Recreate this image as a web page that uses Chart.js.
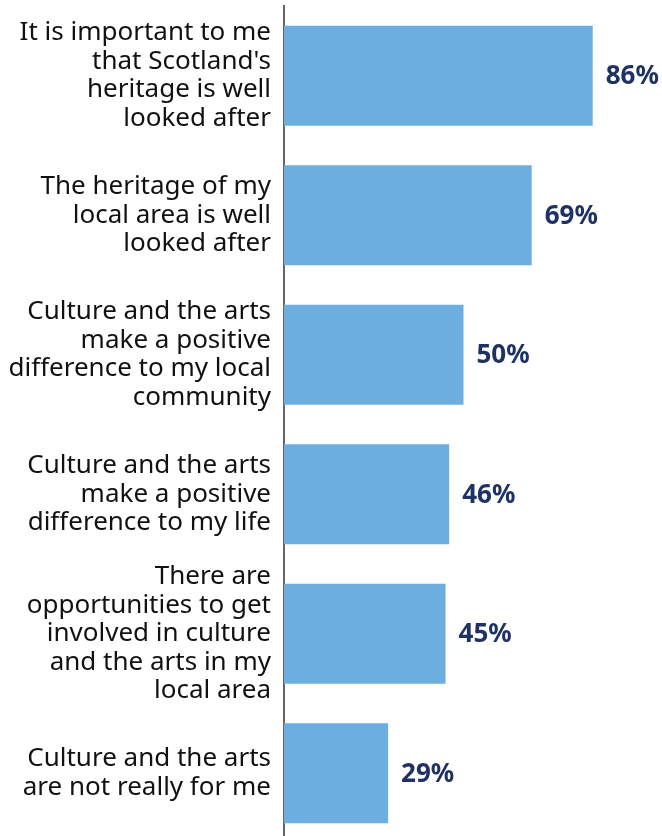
<!DOCTYPE html>
<html>
<head>
<meta charset="utf-8">
<script src="https://cdn.jsdelivr.net/npm/chart.js@4"></script>
<style>
    html, body { margin: 0; padding: 0; background: #fff; overflow: hidden; }
    #wrap { width: 662px; height: 843px; }
</style>
</head>
<body>
<div id="wrap"><canvas id="barChart"></canvas></div>
<script>
// Chart data
const categories = [
    ['It is important to me', 'that Scotland\'s', 'heritage is well', 'looked after'],
    ['The heritage of my', 'local area is well', 'looked after'],
    ['Culture and the arts', 'make a positive', 'difference to my local', 'community'],
    ['Culture and the arts', 'make a positive', 'difference to my life'],
    ['There are', 'opportunities to get', 'involved in culture', 'and the arts in my', 'local area'],
    ['Culture and the arts', 'are not really for me']
];
const values = [86, 69, 50, 46, 45, 29];

// Draw the % labels to the right of each bar
const valueLabels = {
    id: 'valueLabels',
    afterDatasetsDraw(chart) {
        const ctx = chart.ctx;
        const meta = chart.getDatasetMeta(0);
        ctx.save();
        ctx.font = 'bold 26px "Noto Sans"';
        ctx.fillStyle = '#1f3264';
        ctx.textAlign = 'left';
        ctx.textBaseline = 'middle';
        meta.data.forEach(function(bar, i) {
            ctx.fillText(values[i] + '%', bar.x + 13, bar.y + 1);
        });
        ctx.restore();
    }
};

const ctx = document.getElementById('barChart').getContext('2d');
const barChart = new Chart(ctx, {
    type: 'bar',
    data: {
        labels: categories,
        datasets: [{
            data: values,
            backgroundColor: '#6caee0',
            borderWidth: 0,
            categoryPercentage: 1,
            barPercentage: 0.717
        }]
    },
    options: {
        indexAxis: 'y',
        responsive: true,
        maintainAspectRatio: false,
        animation: false,
        layout: {
            padding: { top: 6, right: 19, bottom: 0, left: 0 }
        },
        plugins: {
            legend: { display: false },
            tooltip: { enabled: false }
        },
        scales: {
            x: {
                display: false,
                min: 0,
                max: 100
            },
            y: {
                grid: { display: false, drawTicks: false },
                border: { display: true, color: '#666', width: 2 },
                afterFit: function(scale) {
                    scale.width = 284;
                    scale.paddingTop = 0;
                    scale.paddingBottom = 0;
                },
                ticks: {
                    autoSkip: false,
                    padding: 13,
                    color: '#111',
                    font: { family: '"Noto Sans"', size: 26, lineHeight: 1.1 }
                }
            }
        }
    },
    plugins: [valueLabels]
});
</script>
</body>
</html>
